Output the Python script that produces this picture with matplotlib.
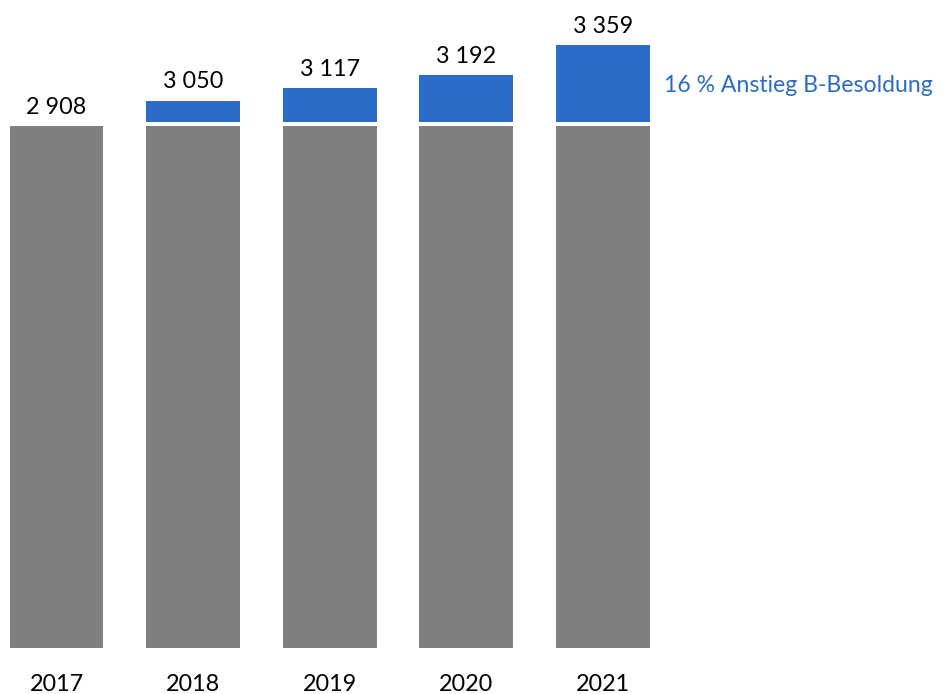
import matplotlib.pyplot as plt

plt.rcParams['font.family'] = ['Lato', 'DejaVu Sans']

years = ['2017', '2018', '2019', '2020', '2021']
totals = [2908, 3050, 3117, 3192, 3359]
base = 2908
note = '16 % Anstieg B-Besoldung'

grey = '#7f7f7f'
blue = '#2b6cc8'
gap = 24  # white seam between the grey base and the blue increase

fig = plt.figure(figsize=(9.46, 6.94), dpi=100)
ax = fig.add_axes([0, 46 / 694, 1, 648 / 694])

xs = list(range(len(years)))
ax.bar(xs, [base] * len(xs), width=0.688, color=grey)
for x, t in zip(xs, totals):
    if t > base:
        ax.bar(x, t - base - gap, bottom=base + gap, width=0.688, color=blue)

for x, t in zip(xs, totals):
    label = f'{t:,}'.replace(',', ' ')
    ax.annotate(label, (x, t), xytext=(0, 9), textcoords='offset points',
                ha='center', va='baseline', fontsize=16.8, color='black')
    ax.annotate(years[x], (x, 0), xytext=(0, -18.5), textcoords='offset points',
                ha='center', va='top', fontsize=16.8, color='black')

ax.annotate(note, (xs[-1] + 0.344, (base + totals[-1]) / 2), xytext=(10, 0),
            textcoords='offset points', ha='left', va='center',
            fontsize=16.6, color=blue)

ax.set_xlim(-0.4136, 6.512)
ax.set_ylim(0, 3610)
ax.axis('off')

fig.savefig('out.png', dpi=100)
